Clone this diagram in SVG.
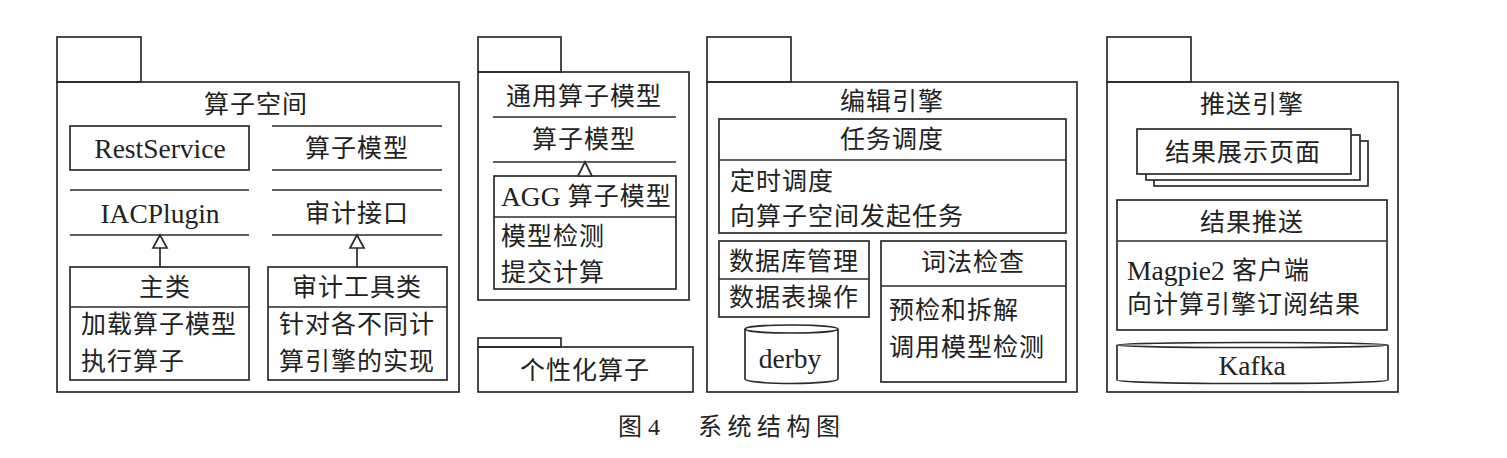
<svg xmlns="http://www.w3.org/2000/svg" width="1507" height="458" viewBox="0 0 1507 458">
<style>
rect,path,line,ellipse,polygon{fill:none;stroke:#2b2b2b;stroke-width:1.7}
rect.w,path.w,ellipse.w{fill:#fff}
text{font-family:'Liberation Serif','Noto Sans CJK SC',serif;font-size:25px;fill:#222;dominant-baseline:central;letter-spacing:1px}
.c{text-anchor:middle}
.l{font-size:27.5px;letter-spacing:0}
polygon.tri{fill:#fff}
</style>
<rect x="0" y="0" width="1507" height="458" style="fill:#fff;stroke:none"/>

<g id="pkg-suanzi-kongjian">
<rect x="57" y="37" width="84" height="45"/>
<rect x="57" y="82" width="402" height="310"/>
<text class="c" x="256" y="104">算子空间</text>
</g>
<g id="restservice">
<rect x="70" y="126" width="179" height="44"/>
<text class="c l" x="160" y="148">RestService</text>
</g>
<g id="suanzi-moxing-iface">
<line x1="272" y1="126" x2="442" y2="126"/>
<line x1="272" y1="170" x2="442" y2="170"/>
<text class="c" x="357" y="148">算子模型</text>
</g>
<g id="iacplugin">
<line x1="70" y1="190" x2="249" y2="190"/>
<line x1="70" y1="235" x2="249" y2="235"/>
<text class="c l" x="160" y="213">IACPlugin</text>
</g>
<g id="shenji-jiekou">
<line x1="272" y1="190" x2="442" y2="190"/>
<line x1="272" y1="235" x2="442" y2="235"/>
<text class="c" x="357" y="213">审计接口</text>
</g>
<g id="zhulei">
<rect x="70" y="267" width="179" height="113"/>
<line x1="70" y1="307" x2="249" y2="307"/>
<text class="c" x="165" y="287">主类</text>
<text x="81" y="324">加载算子模型</text>
<text x="81" y="361">执行算子</text>
</g>
<g id="shenji-gongju">
<rect x="268" y="267" width="179" height="113"/>
<line x1="268" y1="307" x2="447" y2="307"/>
<text class="c" x="357" y="287">审计工具类</text>
<text x="279" y="324">针对各不同计</text>
<text x="279" y="361">算引擎的实现</text>
</g>

<g id="pkg-tongyong">
<rect x="478" y="37" width="83" height="35"/>
<rect x="478" y="72" width="211" height="228"/>
<text class="c" x="584" y="96">通用算子模型</text>
<line x1="493" y1="117" x2="676" y2="117"/>
<line x1="493" y1="162" x2="676" y2="162"/>
<text class="c" x="584" y="139">算子模型</text>
</g>
<g id="agg">
<rect x="494" y="176" width="182" height="113"/>
<line x1="494" y1="217" x2="676" y2="217"/>
<text x="501" y="196"><tspan class="l" style="font-size:27.5px;letter-spacing:0">AGG</tspan> 算子模型</text>
<text x="501" y="236">模型检测</text>
<text x="501" y="272">提交计算</text>
</g>

<g id="pkg-gexinghua">
<rect x="478" y="338" width="83" height="9"/>
<rect x="478" y="347" width="215" height="45"/>
<text class="c" x="585" y="370">个性化算子</text>
</g>

<g id="pkg-bianji">
<rect x="707" y="37" width="84" height="45"/>
<rect x="707" y="82" width="370" height="310"/>
<text class="c" x="892" y="101">编辑引擎</text>
</g>
<g id="renwu-diaodu">
<rect x="719" y="119" width="347" height="114"/>
<line x1="719" y1="160" x2="1066" y2="160"/>
<text class="c" x="892" y="139">任务调度</text>
<text x="730" y="181">定时调度</text>
<text x="730" y="216">向算子空间发起任务</text>
</g>
<g id="shujuku">
<rect x="719" y="241" width="150" height="76"/>
<line x1="719" y1="279" x2="869" y2="279"/>
<text class="c" x="794" y="261">数据库管理</text>
<text class="c" x="794" y="297">数据表操作</text>
</g>
<g id="derby">
<path class="w" d="M745,329 L745,379 A46.5,4.5 0 0 0 838,379 L838,329"/>
<ellipse class="w" cx="791.5" cy="329" rx="46.5" ry="4"/>
<text class="c l" x="790" y="358">derby</text>
</g>
<g id="cifa-jiancha">
<rect x="881" y="241" width="185" height="141"/>
<line x1="881" y1="286" x2="1066" y2="286"/>
<text class="c" x="973" y="262">词法检查</text>
<text x="889" y="310">预检和拆解</text>
<text x="889" y="347">调用模型检测</text>
</g>

<g id="pkg-tuisong">
<rect x="1107" y="37" width="84" height="45"/>
<rect x="1107" y="82" width="291" height="310"/>
<text class="c" x="1252" y="104">推送引擎</text>
</g>
<g id="jieguo-zhanshi">
<rect class="w" x="1154" y="141" width="214" height="45"/>
<rect class="w" x="1146" y="135" width="214" height="45"/>
<rect class="w" x="1137" y="129" width="214" height="45"/>
<text class="c" x="1243" y="152">结果展示页面</text>
</g>
<g id="jieguo-tuisong">
<rect x="1117" y="200" width="270" height="130"/>
<line x1="1117" y1="241" x2="1387" y2="241"/>
<text class="c" x="1252" y="222">结果推送</text>
<text x="1127" y="270"><tspan style="font-size:27.5px;letter-spacing:0">Magpie2</tspan> 客户端</text>
<text x="1127" y="304">向计算引擎订阅结果</text>
</g>
<g id="kafka">
<path class="w" d="M1117,345 L1117,380 A135.5,3.5 0 0 0 1388,380 L1388,345"/>
<ellipse class="w" cx="1252.5" cy="345" rx="135.5" ry="2.5"/>
<text class="c l" x="1252" y="365">Kafka</text>
</g>

<g id="connectors">
<line x1="160" y1="248" x2="160" y2="267"/>
<polygon class="tri" points="160,235 153,248 167,248"/>
<line x1="357" y1="248" x2="357" y2="267"/>
<polygon class="tri" points="357,235 350,248 364,248"/>
<polygon class="tri" points="585,162 578,176 592,176"/>
</g>

<g id="caption">
<text x="618" y="427" style="font-size:24px;letter-spacing:0">图 <tspan style="font-family:'Liberation Serif',serif">4</tspan></text>
<text x="698" y="427" textLength="142" style="font-size:24px;letter-spacing:0">系统结构图</text>
</g>
</svg>
